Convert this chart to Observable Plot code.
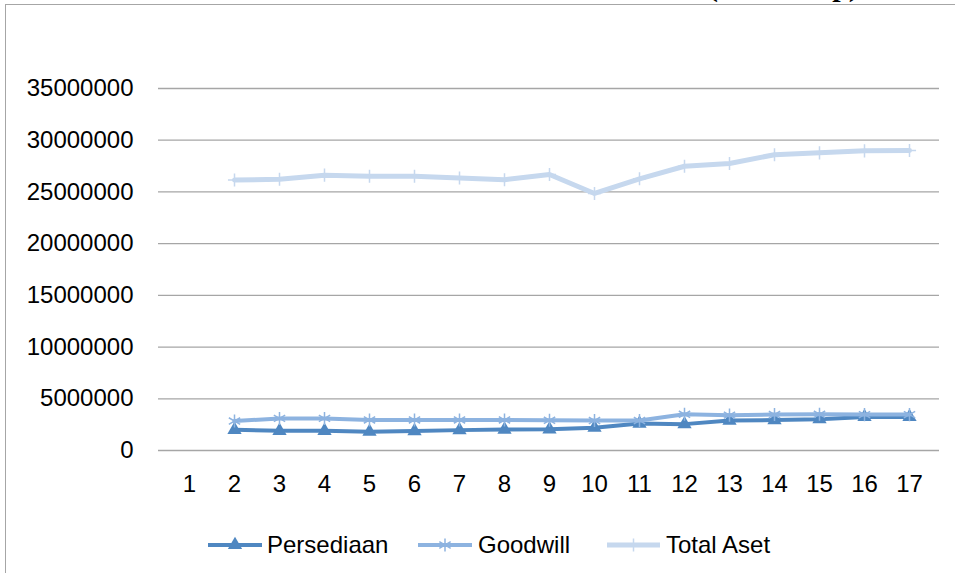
<!DOCTYPE html>
<html><head><meta charset="utf-8">
<script src="https://cdn.jsdelivr.net/npm/d3@7"></script>
<script src="https://cdn.jsdelivr.net/npm/@observablehq/plot@0.6"></script>
<style>
body{margin:0;background:#fff;overflow:hidden;}
#wrap{position:relative;width:955px;height:573px;overflow:hidden;font-family:"Liberation Sans",Arial,sans-serif;background:#fff;}
#frame{position:absolute;left:5px;top:4px;width:960px;height:600px;border-top:1.5px solid #a6a6a6;border-left:1.5px solid #a6a6a6;}
#title{position:absolute;left:708px;top:-29px;font:bold 30px/30px "Liberation Serif","Times New Roman",serif;white-space:nowrap;color:#000;}
#chart{position:absolute;left:0;top:0;}
#legend{position:absolute;left:0;top:500px;}
</style></head>
<body>
<div id="wrap">
  <div id="title">(Dalam Rp)</div>
  <div id="frame"></div>
  <div id="chart"></div>
  <svg id="legend" width="955" height="73"></svg>
</div>
<script>
const categories = ["1","2","3","4","5","6","7","8","9","10","11","12","13","14","15","16","17"];
const yTicks = [0,5000000,10000000,15000000,20000000,25000000,30000000,35000000];
const seriesNames = ["Persediaan","Goodwill","Total Aset"];
const persediaan = [null,2000000,1900000,1900000,1820000,1880000,1970000,2030000,2050000,2200000,2600000,2550000,2900000,2940000,3030000,3250000,3250000];
const goodwill   = [null,2850000,3100000,3100000,2950000,2950000,2950000,2950000,2920000,2900000,2900000,3500000,3420000,3480000,3500000,3470000,3470000];
const totalAset  = [null,26150000,26220000,26620000,26520000,26520000,26350000,26180000,26680000,24850000,26270000,27480000,27750000,28600000,28780000,28970000,29000000];

const colors = {"Persediaan":"#4f87c1","Goodwill":"#8db3e0","Total Aset":"#c6d8ee"};

function rows(arr, name){
  return categories.map((c,i)=>({cat:c, value:arr[i], series:name})).filter(d=>d.value!=null);
}
const rP = rows(persediaan,"Persediaan");
const rG = rows(goodwill,"Goodwill");
const rT = rows(totalAset,"Total Aset");

const chart = Plot.plot({
  width:955, height:500,
  marginLeft:158, marginRight:16, marginTop:88, marginBottom:50,
  style:{fontFamily:"'Liberation Sans', Arial, sans-serif", fontSize:"24px", color:"#000", background:"transparent", overflow:"visible"},
  x:{type:"point", domain:categories, padding:0.5, label:null, tickSize:0, tickPadding:24},
  y:{domain:[0,35000000], ticks:yTicks, tickFormat:d=>String(d), label:null, tickSize:0, tickPadding:25},
  marks:[
    Plot.ruleY(yTicks, {stroke:"#a6a6a6", strokeWidth:1.3}),
    Plot.line(rP, {x:"cat", y:"value", stroke:colors["Persediaan"], strokeWidth:4}),
    Plot.dot(rP, {x:"cat", y:"value", symbol:"triangle", r:5.3, fill:colors["Persediaan"], stroke:"none"}),
    Plot.line(rG, {x:"cat", y:"value", stroke:colors["Goodwill"], strokeWidth:4}),
    Plot.dot(rG, {x:"cat", y:"value", symbol:"asterisk", r:6.2, stroke:colors["Goodwill"], strokeWidth:1.5}),
    Plot.line(rT, {x:"cat", y:"value", stroke:colors["Total Aset"], strokeWidth:5}),
    Plot.dot(rT, {x:"cat", y:"value", symbol:"plus", r:4.3, stroke:colors["Total Aset"], strokeWidth:1.5})
  ]
});
document.getElementById("chart").appendChild(chart);

// legend
const leg = d3.select("#legend");
const items = [
  {name:"Persediaan", x0:208, x1:262, tx:267, sym:d3.symbolTriangle, size:Math.PI*5.3*5.3, fill:true, w:4},
  {name:"Goodwill", x0:418, x1:472, tx:478, sym:d3.symbolAsterisk, size:Math.PI*6.2*6.2, fill:false, w:4},
  {name:"Total Aset", x0:607, x1:660, tx:666, sym:d3.symbolPlus, size:Math.PI*4.3*4.3, fill:false, w:5}
];
const ly = 45;
items.forEach(it=>{
  const c = colors[it.name];
  leg.append("line").attr("x1",it.x0).attr("x2",it.x1).attr("y1",ly).attr("y2",ly)
    .attr("stroke",c).attr("stroke-width",it.w);
  leg.append("path").attr("d", d3.symbol(it.sym, it.size)())
    .attr("transform",`translate(${(it.x0+it.x1)/2},${ly})`)
    .attr("fill", it.fill ? c : "none").attr("stroke", it.fill ? "none" : c).attr("stroke-width",1.5);
  leg.append("text").attr("x",it.tx).attr("y",ly).attr("dy","0.35em")
    .attr("font-family","'Liberation Sans', Arial, sans-serif").attr("font-size",24).attr("fill","#000")
    .text(it.name);
});
</script>
</body></html>
